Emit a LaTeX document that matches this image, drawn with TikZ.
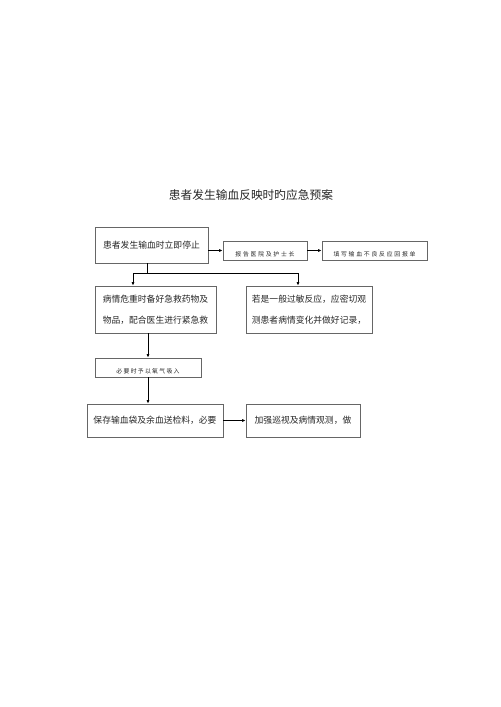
\documentclass[tikz,border=0pt]{standalone}
\usepackage{fontspec}
\newfontfamily\cjk{Noto Sans CJK SC}
\usetikzlibrary{arrows.meta}
\newcommand{\pxu}{0.03cm}

\begin{document}
\begin{tikzpicture}[x=0.03cm,y=-0.03cm,
  box/.style={draw=black!60,line width=0.6pt,text=black!85,inner sep=1pt,
    font=\cjk\fontsize{7.5}{18}\selectfont},
  tinybox/.style={box,text height=10pt,text depth=0pt,
    font=\cjk\fontsize{5}{6}\selectfont\addfontfeature{LetterSpace=30}},
  link/.style={draw,line width=0.6pt,-{Latex[length=3pt,width=2.6pt]}}]
\useasboundingbox (0,0) rectangle (500,707);

\node[font=\cjk\fontsize{10}{12}\selectfont,text=black!85] (title) at (251,195) {患者发生输血反映时旳应急预案};

\node[box,minimum width=113*\pxu,minimum height=36*\pxu] (stop) at (151.5,245) {患者发生输血时立即停止};
\node[tinybox,minimum width=84*\pxu,minimum height=19*\pxu] (report) at (265,250.5) {报告医院及护士长};
\node[tinybox,minimum width=105*\pxu,minimum height=19*\pxu] (form) at (374.5,250.5) {填写输血不良反应回报单};
\node[box,align=center,minimum width=121*\pxu,minimum height=47*\pxu] (rescue) at (155.5,309.5) {病情危重时备好急救药物及\\物品，配合医生进行紧急救};
\node[box,align=center,minimum width=126*\pxu,minimum height=47*\pxu] (observe) at (309,309.5) {若是一般过敏反应，应密切观\\测患者病情变化并做好记录，};
\node[tinybox,font=\cjk\fontsize{5}{6}\selectfont\addfontfeature{LetterSpace=22},minimum width=106*\pxu,minimum height=19*\pxu] (oxygen) at (148,367.5) {必要时予以氧气吸入};
\node[box,minimum width=136*\pxu,minimum height=33*\pxu] (keep) at (155,420.5) {保存输血袋及余血送检料，必要};
\node[box,minimum width=114*\pxu,minimum height=33*\pxu] (patrol) at (303,420.5) {加强巡视及病情观测，做};

\coordinate (fork) at (147,273);
\coordinate (forkl) at (133,273);
\coordinate (forkr) at (298,273);

\path[draw,line width=0.6pt] (fork |- stop.south) -- (fork);
\path[link] (fork) -| (forkl |- rescue.north);
\path[link] (fork) -| (forkr |- observe.north);
\path[link] (stop.east |- report.west) -- (report.west);
\path[link] (report) -- (form);
\path[link] (rescue.south -| oxygen.north) -- (oxygen.north);
\path[link] (oxygen.south) -- (oxygen.south |- keep.north);
\path[link] (keep) -- (patrol);
\end{tikzpicture}
\end{document}
